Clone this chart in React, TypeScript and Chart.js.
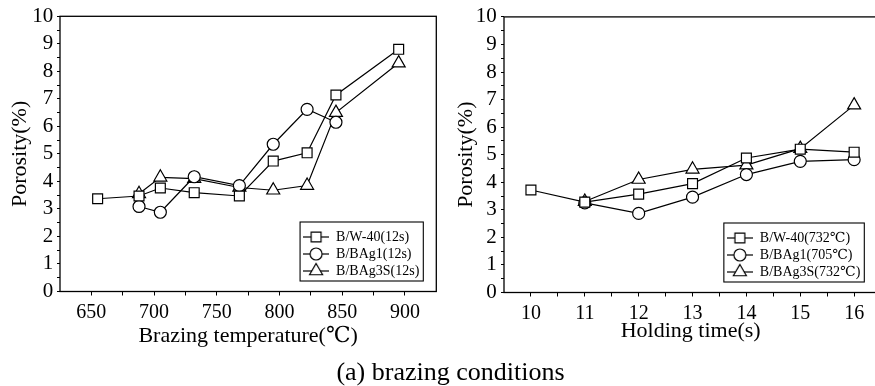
import React, { useEffect, useRef } from 'react';
import { Chart, registerables } from 'chart.js';

Chart.register(...registerables);

// ---- data: left panel (brazing temperature) ----
const tempW40 = [655, 688, 705, 732, 768, 795, 822, 845, 895];
const porW40Temp = [3.37, 3.47, 3.76, 3.59, 3.47, 4.74, 5.04, 7.14, 8.8];
const tempBAg1 = [688, 705, 732, 768, 795, 822, 845];
const porBAg1Temp = [3.09, 2.88, 4.17, 3.85, 5.35, 6.62, 6.15];
const tempBAg3S = [688, 705, 732, 768, 795, 822, 845, 895];
const porBAg3STemp = [3.55, 4.15, 4.1, 3.78, 3.68, 3.85, 6.5, 8.3];

// ---- data: right panel (holding time) ----
const timeW40 = [10, 11, 12, 13, 14, 15, 16];
const porW40Time = [3.72, 3.28, 3.57, 3.95, 4.88, 5.2, 5.09];
const timeBAg1 = [11, 12, 13, 14, 15, 16];
const porBAg1Time = [3.25, 2.87, 3.46, 4.28, 4.76, 4.82];
const timeBAg3S = [11, 12, 13, 14, 15, 16];
const porBAg3STime = [3.3, 4.1, 4.47, 4.62, 5.22, 6.8];

// ---- labels / ticks ----
const legendTemp = ['B/W-40(12s)', 'B/BAg1(12s)', 'B/BAg3S(12s)'];
const legendTime = ['B/W-40(732℃)', 'B/BAg1(705℃)', 'B/BAg3S(732℃)'];
const tempTicks = [650, 700, 750, 800, 850, 900];
const timeTicks = [10, 11, 12, 13, 14, 15, 16];
const porosityTicks = [0, 1, 2, 3, 4, 5, 6, 7, 8, 9, 10];
const titleTemp = 'Brazing temperature(℃)';
const titleTime = 'Holding time(s)';
const titleY = 'Porosity(%)';
const caption = '(a) brazing conditions';

const FAMILY = '"Liberation Serif", "DejaVu Serif", "Noto Sans CJK JP", serif';
const LEGEND_SIZE = 14;
const styles = ['rect', 'circle', 'triangle'];
const radii = [7, 6, 7.5];

function withMinor(majors: number[]) {
  const out: number[] = [];
  majors.forEach((v, i) => {
    out.push(v);
    if (i < majors.length - 1) out.push((v + majors[i + 1]) / 2);
  });
  return out;
}

function makeIcon(style: string, r: number) {
  const c = document.createElement('canvas');
  c.width = 26;
  c.height = 18;
  const g = c.getContext('2d')!;
  g.strokeStyle = '#000';
  g.lineWidth = 1.2;
  g.beginPath();
  g.moveTo(0, 9);
  g.lineTo(26, 9);
  g.stroke();
  g.fillStyle = '#fff';
  g.beginPath();
  const cx = 13, cy = 9;
  if (style === 'rect') {
    const s = r * Math.SQRT1_2;
    g.rect(cx - s, cy - s, 2 * s, 2 * s);
  } else if (style === 'circle') {
    g.arc(cx, cy, r, 0, Math.PI * 2);
  } else {
    const h = r;
    g.moveTo(cx, cy - h);
    g.lineTo(cx + h * Math.sin(Math.PI / 3), cy + h * 0.5);
    g.lineTo(cx - h * Math.sin(Math.PI / 3), cy + h * 0.5);
    g.closePath();
  }
  g.fill();
  g.stroke();
  return c;
}

const framePlugin = {
  id: 'frame',
  afterLayout(chart: any) {
    const lg = chart.legend;
    if (!lg) return;
    const ctx = chart.ctx;
    ctx.save();
    ctx.font = `${LEGEND_SIZE}px ${FAMILY}`;
    const labels = chart.data.datasets.map((d: any) => d.label);
    const tw = Math.max(...labels.map((t: string) => ctx.measureText(t).width));
    ctx.restore();
    const w = 2 + 26 + LEGEND_SIZE / 2 + tw + 5;
    const h = 59;
    const right = chart.chartArea.right - 13;
    const bottom = chart.chartArea.bottom - 10.5;
    const left = right - w;
    const top = bottom - h;
    lg.left = left;
    lg.top = top + 5;
    lg.right = right;
    lg.bottom = bottom;
    lg.width = w;
    lg.height = h - 5;
    chart.$lgBox = { left, top, w, h };
  },
  afterDraw(chart: any) {
    const { ctx, chartArea } = chart;
    ctx.save();
    ctx.strokeStyle = '#000';
    ctx.lineWidth = 1.3;
    ctx.strokeRect(chartArea.left, chartArea.top, chartArea.right - chartArea.left, chartArea.bottom - chartArea.top);
    const b = chart.$lgBox;
    if (b) {
      ctx.lineWidth = 1.1;
      ctx.strokeRect(b.left, b.top, b.w, b.h);
    }
    ctx.restore();
  },
};

interface PanelCfg {
  xs: number[][];
  ys: number[][];
  names: string[];
  xMin: number;
  xMax: number;
  xMajors: number[];
  xTitle: string;
  yAxisWidth: number;
  padTop: number;
  padBottom: number;
  padRight: number;
  xTickPad: number;
  xTitlePadBottom: number;
  yTitlePad: number;
  yTickPad: number;
}

function buildChart(canvas: HTMLCanvasElement, p: PanelCfg) {
  const icons = styles.map((s, i) => makeIcon(s, radii[i]));
  const yMinor = withMinor(porosityTicks);
  const xAll = withMinor(p.xMajors);
  return new Chart(canvas, {
    type: 'line',
    data: {
      datasets: p.names.map((name, i) => ({
        label: name,
        data: p.xs[i].map((x, j) => ({ x, y: p.ys[i][j] })),
        borderColor: '#000',
        borderWidth: 1.2,
        backgroundColor: '#fff',
        pointStyle: styles[i] as any,
        pointRadius: radii[i],
        pointBackgroundColor: '#fff',
        pointBorderColor: '#000',
        pointBorderWidth: 1.2,
        tension: 0,
      })),
    },
    options: {
      responsive: false,
      animation: false,
      devicePixelRatio: 1,
      layout: { padding: { left: 0, top: p.padTop, bottom: p.padBottom, right: p.padRight } },
      scales: {
        x: {
          type: 'linear',
          min: p.xMin,
          max: p.xMax,
          afterBuildTicks: (s: any) => {
            s.ticks = xAll.map((v) => ({ value: v }));
          },
          afterFit: (s: any) => {
            s.height = 60;
          },
          ticks: {
            autoSkip: false,
            maxRotation: 0,
            padding: p.xTickPad,
            color: '#000',
            font: { family: FAMILY, size: 20 },
            callback: (v: any) => (p.xMajors.includes(Number(v)) ? String(v) : ''),
          },
          grid: { drawOnChartArea: false, drawTicks: true, tickLength: 4, tickColor: '#000', tickWidth: 1, color: '#000' },
          border: { display: false },
          title: {
            display: true,
            text: p.xTitle,
            color: '#000',
            font: { family: FAMILY, size: 22 },
            padding: { top: 0, bottom: p.xTitlePadBottom },
          },
        },
        y: {
          type: 'linear',
          min: 0,
          max: 10,
          afterBuildTicks: (s: any) => {
            s.ticks = yMinor.map((v) => ({ value: v }));
          },
          afterFit: (s: any) => {
            s.width = p.yAxisWidth;
          },
          ticks: {
            autoSkip: false,
            padding: p.yTickPad,
            color: '#000',
            font: { family: FAMILY, size: 21 },
            callback: (v: any) => (porosityTicks.includes(Number(v)) ? String(v) : ''),
          },
          grid: { drawOnChartArea: false, drawTicks: true, tickLength: 3, tickColor: '#000', tickWidth: 1, color: '#000' },
          border: { display: false },
          title: {
            display: true,
            text: titleY,
            color: '#000',
            font: { family: FAMILY, size: 22 },
            padding: { top: p.yTitlePad, bottom: 0 },
          },
        },
      },
      plugins: {
        tooltip: { enabled: false },
        legend: {
          display: true,
          position: 'chartArea' as any,
          align: 'start',
          labels: {
            usePointStyle: true,
            pointStyleWidth: 26,
            boxHeight: LEGEND_SIZE,
            padding: 3,
            color: '#000',
            font: { family: FAMILY, size: LEGEND_SIZE },
            generateLabels: (chart: any) => {
              const items = (Chart as any).defaults.plugins.legend.labels.generateLabels(chart);
              return items.map((it: any, i: number) => ({ ...it, pointStyle: icons[i], lineWidth: 0 }));
            },
          },
        },
      },
    },
    plugins: [framePlugin],
  } as any);
}

export default function App() {
  const leftRef = useRef<HTMLCanvasElement>(null);
  const rightRef = useRef<HTMLCanvasElement>(null);

  useEffect(() => {
    const left = buildChart(leftRef.current!, {
      xs: [tempW40, tempBAg1, tempBAg3S],
      ys: [porW40Temp, porBAg1Temp, porBAg3STemp],
      names: legendTemp,
      xMin: 625,
      xMax: 925,
      xMajors: tempTicks,
      xTitle: titleTemp,
      yAxisWidth: 60,
      padTop: 8.5,
      padBottom: 8.5,
      padRight: 4,
      xTickPad: 5.5,
      xTitlePadBottom: 1.8,
      yTitlePad: 7,
      yTickPad: 3.7,
    });
    const right = buildChart(rightRef.current!, {
      xs: [timeW40, timeBAg1, timeBAg3S],
      ys: [porW40Time, porBAg1Time, porBAg3STime],
      names: legendTime,
      xMin: 9.5,
      xMax: 16.43,
      xMajors: timeTicks,
      xTitle: titleTime,
      yAxisWidth: 63,
      padTop: 10.5,
      padBottom: 7.5,
      padRight: 6,
      xTickPad: 4.8,
      xTitlePadBottom: 7.8,
      yTitlePad: 12.5,
      yTickPad: 4.3,
    });
    return () => {
      left.destroy();
      right.destroy();
    };
  }, []);

  return (
    <div style={{ position: 'fixed', left: 0, top: 0, width: 875, height: 386, overflow: 'hidden', background: '#fff' }}>
      <canvas ref={leftRef} width={445} height={360} style={{ position: 'absolute', left: 0, top: 0 }} />
      <canvas ref={rightRef} width={445} height={360} style={{ position: 'absolute', left: 441, top: 0 }} />
      <div
        style={{
          position: 'absolute',
          left: 0,
          top: 357,
          width: 901,
          textAlign: 'center',
          fontFamily: FAMILY,
          fontSize: 26,
          lineHeight: '30px',
          color: '#000',
        }}
      >
        {caption}
      </div>
    </div>
  );
}
